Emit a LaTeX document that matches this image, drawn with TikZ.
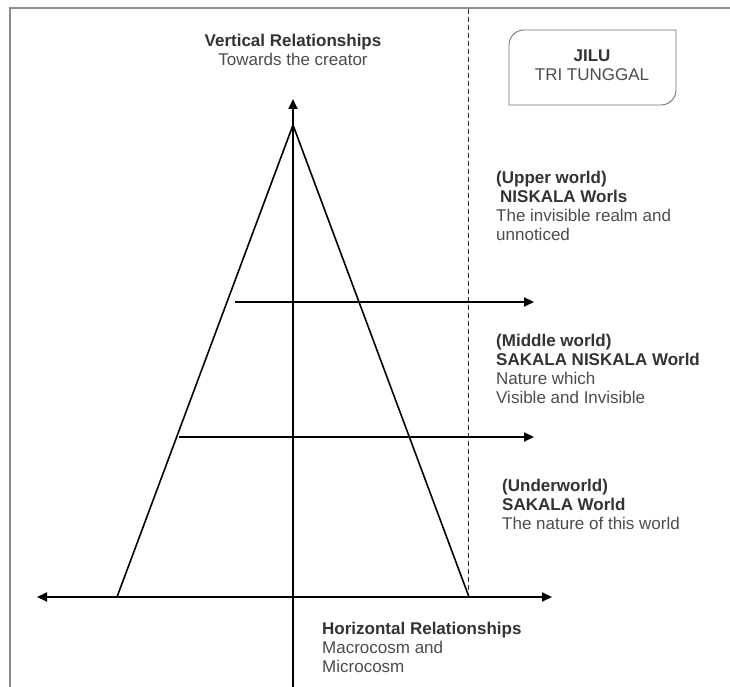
\documentclass[tikz,border=0pt]{standalone}
\usepackage{fontspec}
\setmainfont{Liberation Sans}
\usetikzlibrary{arrows.meta}
\definecolor{framegray}{gray}{0.55}
\definecolor{boxgray}{gray}{0.45}
\definecolor{headtext}{gray}{0.2}
\definecolor{bodytext}{gray}{0.3}
\tikzset{
  axisline/.style={black, line width=2pt, -{Triangle[length=10pt,width=9pt]}},
  sideline/.style={black, line width=1.6pt},
  layerarrow/.style={black, line width=1.8pt, -{Triangle[length=10pt,width=9pt]}},
  splitline/.style={black!80, line width=0.9pt, dash pattern=on 5pt off 3pt},
  caption/.style={inner sep=0pt, align=left, anchor=north west, text=bodytext,
    font=\fontsize{17}{19}\selectfont},
}
\newcommand{\hd}[1]{\textcolor{headtext}{\textbf{#1}}}

\begin{document}
\begin{tikzpicture}[x=1pt, y=-1pt]
	\useasboundingbox (0,0) rectangle (730,687);
	\fill[white] (0,0) rectangle (730,687);
	\draw[framegray, line width=1.2pt] (10,687) -- (10,8) -- (730,8);

	% axes and pyramid
	\coordinate (apex) at (293,125);
	\coordinate (baseL) at (117,597);
	\coordinate (baseR) at (469,597);
	\coordinate (vtop) at (293,99);
	\coordinate (vbot) at (293,687);
	\coordinate (hleft) at (37,597);
	\coordinate (hright) at (552,597);
	\coordinate (upL) at (235,302);
	\coordinate (upR) at (534,302);
	\coordinate (midL) at (179,437);
	\coordinate (midR) at (534,437);
	\coordinate (dtop) at (468,9);
	\coordinate (dbot) at (468,597);

	\draw[splitline] (dtop) -- (dbot);
	\draw[axisline] (vbot) -- (vtop);
	\draw[axisline, {Triangle[length=10pt,width=9pt]}-{Triangle[length=10pt,width=9pt]}] (hleft) -- (hright);
	\draw[sideline] (baseL) -- (apex) -- (baseR);
	\draw[layerarrow] (upL) -- (upR);
	\draw[layerarrow] (midL) -- (midR);

	% JILU box
	\draw[boxgray, line width=0.9pt] (509,105) -- (509,45) arc[start angle=180, end angle=270, radius=15]
		-- (676,30) -- (676,90) arc[start angle=0, end angle=90, radius=15] -- cycle;
	\node[caption, anchor=center, align=center] (jilu) at (592,65) {\hd{JILU}\\TRI TUNGGAL};

	% labels
	\node[caption, anchor=north, align=center] (vert) at (293,34) {\hd{Vertical Relationships}\\Towards the creator};
	\node[caption] (upper) at (496,171) {\hd{(Upper world)}\\\hd{\hspace{4pt}NISKALA Worls}\\The invisible realm and\\unnoticed};
	\node[caption] (middle) at (496,334) {\hd{(Middle world)}\\\hd{SAKALA NISKALA World}\\Nature which\\Visible and Invisible};
	\node[caption] (under) at (502,479) {\hd{(Underworld)}\\\hd{SAKALA World}\\The nature of this world};
	\node[caption] (horiz) at (322,622) {\hd{Horizontal Relationships}\\Macrocosm and\\Microcosm};
\end{tikzpicture}
\end{document}
